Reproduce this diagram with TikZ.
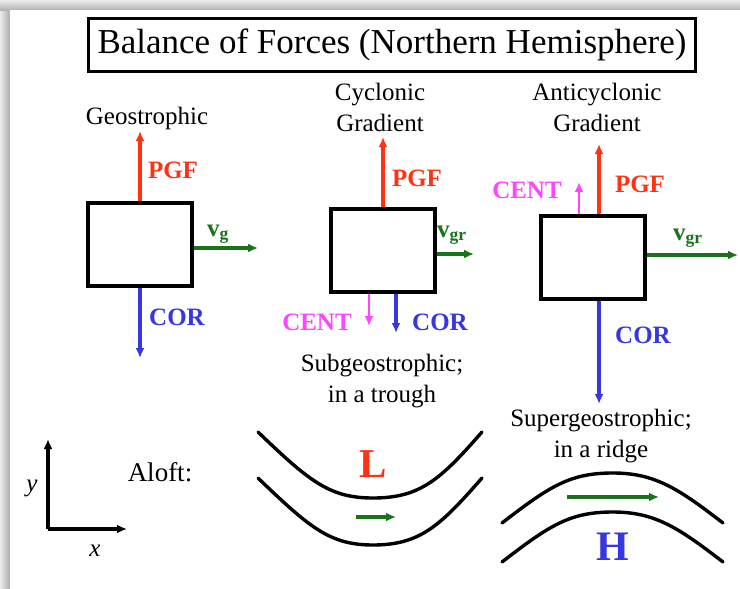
\documentclass[tikz,border=0pt]{standalone}
\usepackage{fontspec}
\setmainfont{Liberation Serif}
\usetikzlibrary{arrows.meta}
\definecolor{pgfred}{RGB}{255,50,20}
\definecolor{corblue}{RGB}{55,55,225}
\definecolor{velgreen}{RGB}{25,115,25}
\definecolor{centmag}{RGB}{255,70,255}
\tikzset{
  forcebox/.style={draw=black, line width=3.4pt, minimum width=104pt, minimum height=83pt, inner sep=0pt},
  vec/.style={line width=3.1pt, -{Latex[length=10pt,width=9pt]}},
  lbl/.style={inner sep=0pt, font=\fontsize{25}{28}\selectfont},
  blbl/.style={inner sep=0pt, font=\fontsize{25}{28}\selectfont\bfseries},
  contour/.style={line width=3.4pt, line cap=round},
}
\begin{document}
\begin{tikzpicture}[x=1pt, y=-1pt]
\useasboundingbox (0,0) rectangle (740,589);
% slide shadow
\fill[gray!30] (0,0) rectangle (740,589);
\shade[left color=gray!15, right color=gray!65] (0,9) rectangle (10,589);
\shade[top color=gray!15, bottom color=gray!60] (0,0) rectangle (740,10);
\fill[white] (10,10) rectangle (740,589);
% title
\node[draw, line width=3pt, minimum width=607pt, minimum height=53pt, inner sep=0pt,
      font=\fontsize{35}{40}\selectfont] (title) at (392,44.5) {Balance of Forces (Northern Hemisphere)};
% ---------- Geostrophic ----------
\node[forcebox] (b1) at (140,244.5) {};
\node[lbl] (t1) at (147,118) {Geostrophic};
\coordinate (p1) at (140,131);
\coordinate (c1) at (140,358);
\coordinate (v1) at (258,248);
\draw[vec, pgfred] (b1.north) -- (p1);
\draw[vec, corblue] (b1.south) -- (c1);
\draw[vec, velgreen] (b1.east |- v1) -- (v1);
\node[blbl, text=pgfred] (lp1) at (173,170) {PGF};
\node[blbl, text=corblue] (lc1) at (177,317) {COR};
\node[blbl, text=velgreen, anchor=base west] (lv1) at (207,236) {v\textsubscript{g}};
% ---------- Cyclonic gradient ----------
\node[forcebox] (b2) at (383,250.5) {};
\node[lbl, align=center] (t2) at (380,107.5) {Cyclonic\\[3pt]Gradient};
\coordinate (p2) at (383,137);
\coordinate (ce2) at (369,326);
\coordinate (c2) at (396,333);
\coordinate (v2) at (474,254);
\draw[vec, pgfred] (b2.north) -- (p2);
\draw[vec, centmag, line width=2.5pt] (b2.south -| ce2) -- (ce2);
\draw[vec, corblue] (b2.south -| c2) -- (c2);
\draw[vec, velgreen] (b2.east |- v2) -- (v2);
\node[blbl, text=pgfred] (lp2) at (417,178) {PGF};
\node[blbl, text=centmag] (lce2) at (317,322) {CENT};
\node[blbl, text=corblue] (lc2) at (440,322) {COR};
\node[blbl, text=velgreen, anchor=base west] (lv2) at (437,237) {v\textsubscript{gr}};
\node[lbl, align=center] (s2) at (382,381.5) {Subgeostrophic;\\[3pt]in a trough};
% ---------- Anticyclonic gradient ----------
\node[forcebox] (b3) at (593,257.5) {};
\node[lbl, align=center] (t3) at (597,107) {Anticyclonic\\[3pt]Gradient};
\coordinate (p3) at (599,144);
\coordinate (ce3) at (579,182);
\coordinate (c3) at (599,404);
\coordinate (v3) at (738,255);
\draw[vec, pgfred] (b3.north -| p3) -- (p3);
\draw[vec, centmag, line width=2.5pt] (b3.north -| ce3) -- (ce3);
\draw[vec, corblue] (b3.south -| c3) -- (c3);
\draw[vec, velgreen] (b3.east |- v3) -- (v3);
\node[blbl, text=pgfred] (lp3) at (640,184) {PGF};
\node[blbl, text=centmag] (lce3) at (527,190) {CENT};
\node[blbl, text=corblue] (lc3) at (643,335) {COR};
\node[blbl, text=velgreen, anchor=base west] (lv3) at (673,240) {v\textsubscript{gr}};
\node[lbl, align=center] (s3) at (601,436.5) {Supergeostrophic;\\[3pt]in a ridge};
% ---------- axes ----------
\coordinate (o) at (48,529);
\coordinate (ya) at (48,439);
\coordinate (xa) at (127,529);
\draw[line width=3.1pt, -{Latex[length=10pt,width=9pt]}] (o) -- (ya);
\draw[line width=3.1pt, -{Latex[length=10pt,width=9pt]}] (o) -- (xa);
\node[lbl, font=\fontsize{25}{28}\selectfont\itshape] (ylab) at (32,488) {y};
\node[lbl, font=\fontsize{25}{28}\selectfont\itshape] (xlab) at (95,551) {x};
\node[lbl, font=\fontsize{27}{30}\selectfont] (aloft) at (160,472) {Aloft:};
% ---------- trough ----------
\draw[contour] (258,432) .. controls (310,482) and (330,498) .. (373,498) .. controls (420,498) and (440,480) .. (482,432);
\draw[contour] (258,478) .. controls (310,528) and (330,545) .. (373,545) .. controls (420,545) and (440,526) .. (482,478);
\node[inner sep=0pt, text=pgfred, font=\fontsize{41}{44}\selectfont\bfseries] (L) at (373,464) {L};
\coordinate (ta1) at (356,517);
\coordinate (ta2) at (396,517);
\draw[vec, velgreen] (ta1) -- (ta2);
% ---------- ridge ----------
\draw[contour] (502,523) .. controls (550,486) and (570,473) .. (613,473) .. controls (656,473) and (680,490) .. (723,523);
\draw[contour] (502,562) .. controls (550,525) and (570,512) .. (613,512) .. controls (656,512) and (680,529) .. (723,562);
\node[inner sep=0pt, text=corblue, font=\fontsize{42}{45}\selectfont\bfseries] (H) at (613,547) {H};
\coordinate (ra1) at (567,497);
\coordinate (ra2) at (659,497);
\draw[vec, velgreen] (ra1) -- (ra2);
\end{tikzpicture}
\end{document}
